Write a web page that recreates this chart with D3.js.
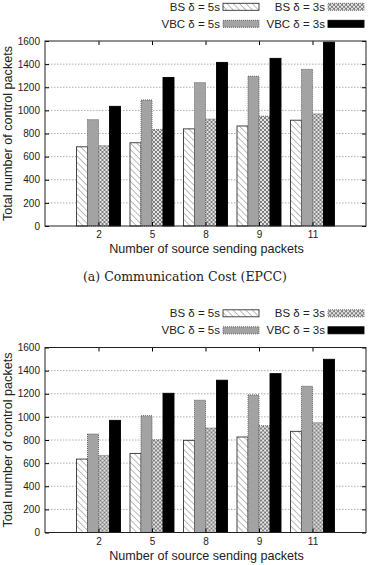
<!DOCTYPE html>
<html>
<head>
<meta charset="utf-8">
<script src="https://cdn.jsdelivr.net/npm/d3@7"></script>
<style>
  body { margin: 0; background: #fff; }
  text { font-family: "Liberation Sans", Arial, sans-serif; fill: #222; }
  .caption { font-family: "DejaVu Serif", "Liberation Serif", serif; }
</style>
</head>
<body>
<div id="chart"></div>
<script>
// Categories and series
const categories = ["2", "5", "8", "9", "11"]
const seriesKeys = ["bs5", "vbc5", "bs3", "vbc3"]
const seriesNames = ["BS δ = 5s", "VBC δ = 5s", "BS δ = 3s", "VBC δ = 3s"]
const yTicks = [0, 200, 400, 600, 800, 1000, 1200, 1400, 1600]

// Top chart (a) values
const topBS5 = [685, 720, 840, 865, 915]
const topVBC5 = [920, 1090, 1240, 1295, 1355]
const topBS3 = [695, 835, 925, 950, 970]
const topVBC3 = [1035, 1285, 1415, 1450, 1590]

// Bottom chart values
const botBS5 = [635, 684, 797, 826, 875]
const botVBC5 = [852, 1010, 1144, 1190, 1265]
const botBS3 = [667, 802, 904, 924, 950]
const botVBC3 = [970, 1204, 1317, 1374, 1498]

const width = 370
const height = 565

const svg = d3.select("#chart")
    .append("svg")
    .attr("width", width)
    .attr("height", height)

// Fill patterns
const defs = svg.append("defs")

const hatch = defs.append("pattern")
    .attr("id", "hatch")
    .attr("patternUnits", "userSpaceOnUse")
    .attr("width", 4.5).attr("height", 4.5)
    .attr("patternTransform", "rotate(-45)")
hatch.append("rect").attr("width", 4.5).attr("height", 4.5).attr("fill", "#fff")
hatch.append("line").attr("x1", 0).attr("y1", 0).attr("x2", 0).attr("y2", 4.5)
    .attr("stroke", "#777").attr("stroke-width", 1)

const cross = defs.append("pattern")
    .attr("id", "cross")
    .attr("patternUnits", "userSpaceOnUse")
    .attr("width", 4).attr("height", 4)
cross.append("rect").attr("width", 4).attr("height", 4).attr("fill", "#e4e4e4")
cross.append("path").attr("d", "M0,0L4,4M4,0L0,4")
    .attr("stroke", "#666").attr("stroke-width", 0.8)

const fills = {
    bs5: { fill: "url(#hatch)", stroke: "#333", dash: null },
    vbc5: { fill: "#a3a3a3", stroke: "#555", dash: "1,1" },
    bs3: { fill: "url(#cross)", stroke: "#666", dash: "1,1" },
    vbc3: { fill: "#000", stroke: "#000", dash: null }
}

// Plot area
const left = 45, right = 366, plotTop = 41, plotBottom = 226

const xScale = d3.scalePoint()
    .domain(categories)
    .range([left, right])
    .padding(1)

const inner = d3.scaleBand()
    .domain(seriesKeys)
    .range([-22, 22])

const yScale = d3.scaleLinear()
    .domain([0, 1600])
    .range([plotBottom, plotTop])

/**
 * Draw one grouped bar chart
 * @param {Object} values - arrays keyed by series
 * @param {Number} offsetY - vertical shift of the chart
 */
function makeBarChart(values, offsetY) {
    const g = svg.append("g").attr("transform", "translate(0," + offsetY + ")")

    // Grid lines
    g.selectAll(".grid")
        .data(yTicks.slice(1, -1))
        .enter()
        .append("line")
        .attr("x1", left).attr("x2", right)
        .attr("y1", d => yScale(d)).attr("y2", d => yScale(d))
        .attr("stroke", "#999")
        .attr("stroke-width", 0.8)
        .attr("stroke-dasharray", "1.5,1.5")

    // Bars
    const rows = categories.map((c, i) => ({ cat: c, vals: seriesKeys.map(k => ({ key: k, v: values[k][i] })) }))
    const groups = g.selectAll(".grp")
        .data(rows)
        .enter()
        .append("g")
        .attr("transform", d => "translate(" + xScale(d.cat) + ",0)")

    groups.selectAll("rect")
        .data(d => d.vals)
        .enter()
        .append("rect")
        .attr("x", d => inner(d.key))
        .attr("y", d => yScale(d.v))
        .attr("width", inner.bandwidth())
        .attr("height", d => plotBottom - yScale(d.v))
        .attr("fill", d => fills[d.key].fill)
        .attr("stroke", d => fills[d.key].stroke)
        .attr("stroke-width", 0.9)
        .attr("stroke-dasharray", d => fills[d.key].dash)

    // Axes (gnuplot style: inward ticks, mirrored)
    const yAxis = d3.axisLeft(yScale).tickValues(yTicks).tickFormat(d3.format("d")).tickSize(-4).tickPadding(5)
    g.append("g")
        .attr("transform", "translate(" + left + ",0)")
        .call(yAxis)
        .attr("font-family", null)
        .attr("font-size", 10)
        .call(a => a.select(".domain").remove())

    g.append("g")
        .attr("transform", "translate(" + right + ",0)")
        .call(d3.axisRight(yScale).tickValues(yTicks).tickSize(-4).tickFormat(""))
        .call(a => a.select(".domain").remove())

    const xAxis = d3.axisBottom(xScale).tickSize(-4).tickPadding(3)
    g.append("g")
        .attr("transform", "translate(0," + plotBottom + ")")
        .call(xAxis)
        .attr("font-family", null)
        .attr("font-size", 10)
        .call(a => a.select(".domain").remove())
        .call(a => a.selectAll("text").attr("dy", "0.9em"))

    g.append("g")
        .attr("transform", "translate(0," + plotTop + ")")
        .call(d3.axisTop(xScale).tickSize(-4).tickFormat(""))
        .call(a => a.select(".domain").remove())

    // Border
    g.append("rect")
        .attr("x", left).attr("y", plotTop)
        .attr("width", right - left).attr("height", plotBottom - plotTop)
        .attr("fill", "none")
        .attr("stroke", "#222")
        .attr("stroke-width", 1)

    // Axis labels
    g.append("text")
        .attr("text-anchor", "middle")
        .attr("x", (left + right) / 2 + 1)
        .attr("y", 253)
        .attr("font-size", 12.6)
        .text("Number of source sending packets")

    g.append("text")
        .attr("text-anchor", "middle")
        .attr("transform", "translate(12," + (plotTop + plotBottom) / 2 + ") rotate(-90)")
        .attr("font-size", 12.6)
        .text("Total number of control packets")

    // Legend
    const legendItems = [
        { key: "bs5", col: 0, row: 0 },
        { key: "bs3", col: 1, row: 0 },
        { key: "vbc5", col: 0, row: 1 },
        { key: "vbc3", col: 1, row: 1 }
    ]
    const colX = [223, 328]
    const rowY = [6.8, 23.8]
    const legend = g.selectAll(".legend")
        .data(legendItems)
        .enter()
        .append("g")
        .attr("transform", d => "translate(" + colX[d.col] + "," + rowY[d.row] + ")")

    legend.append("rect")
        .attr("x", 0).attr("y", -3.5)
        .attr("width", 36).attr("height", 7)
        .attr("fill", d => fills[d.key].fill)
        .attr("stroke", d => fills[d.key].stroke)
        .attr("stroke-width", 0.9)
        .attr("stroke-dasharray", d => fills[d.key].dash)

    legend.append("text")
        .attr("x", -3)
        .attr("dy", "0.36em")
        .attr("text-anchor", "end")
        .attr("font-size", 11.5)
        .text(d => seriesNames[seriesKeys.indexOf(d.key)])

    return g
}

makeBarChart({ bs5: topBS5, vbc5: topVBC5, bs3: topBS3, vbc3: topVBC3 }, 0)

svg.append("text")
    .attr("class", "caption")
    .attr("text-anchor", "middle")
    .attr("x", 185)
    .attr("y", 281)
    .attr("font-size", 12.5)
    .text("(a) Communication Cost (EPCC)")

makeBarChart({ bs5: botBS5, vbc5: botVBC5, bs3: botBS3, vbc3: botVBC3 }, 306.5)
</script>
</body>
</html>
